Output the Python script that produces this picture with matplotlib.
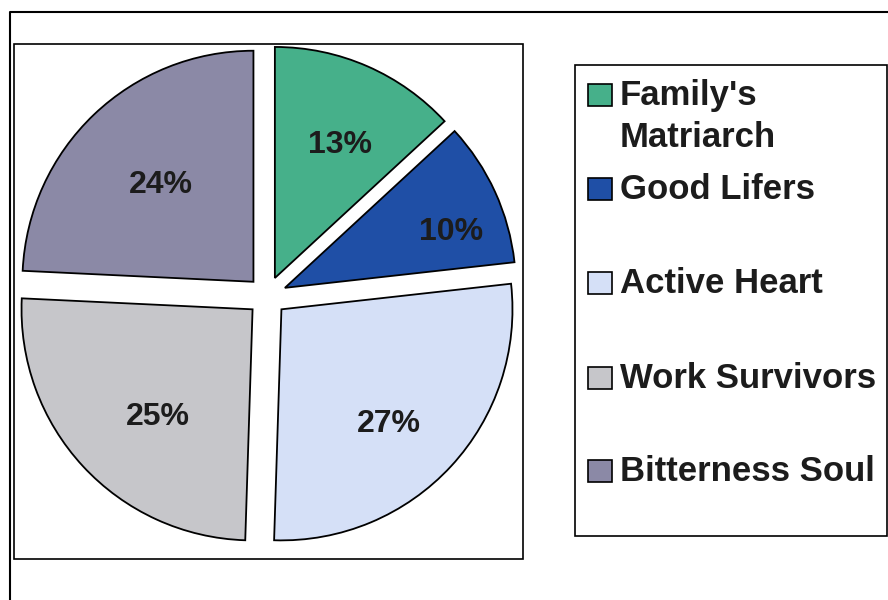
import matplotlib
matplotlib.use("Agg")
import matplotlib.pyplot as plt
import numpy as np
from matplotlib.patches import Rectangle

# Dados do gráfico
categorias = ["Family's\nMatriarch", "Good Lifers", "Active Heart", "Work Survivors", "Bitterness Soul"]
valores = [13, 10, 27, 25, 24]
cores = ["#46b08a", "#1f4fa6", "#d5e0f7", "#c6c6ca", "#8b89a6"]

plt.rcParams['font.family'] = ['Liberation Sans', 'DejaVu Sans']
plt.rcParams['font.weight'] = 'bold'
cor_texto = "#1c1c1c"

fig = plt.figure(figsize=(8.88, 6), dpi=100)

# eixo de fundo em pixels para as molduras e a legenda
bg = fig.add_axes([0, 0, 1, 1])
bg.set_xlim(0, 888)
bg.set_ylim(600, 0)
bg.axis('off')
bg.plot([10, 10, 888], [600, 12, 12], color='black', lw=1.5)
bg.add_patch(Rectangle((14, 44), 509, 515, fill=False, ec='black', lw=1.2))
bg.add_patch(Rectangle((575, 65), 312, 471, fill=False, ec='black', lw=1.2))

# pizza explodida
ax = fig.add_axes([17 / 888, 54 / 600, 500 / 888, 500 / 600])
fatias, _ = ax.pie(valores, colors=cores, startangle=90, counterclock=False,
                   explode=[0.085] * len(valores),
                   wedgeprops=dict(edgecolor='black', linewidth=1.3))
ax.set_xlim(-1.082, 1.082)
ax.set_ylim(-1.082, 1.082)

# rótulos de porcentagem (distância radial e desvio angular por fatia)
dist_rotulos = [0.64, 0.76, 0.68, 0.62, 0.58]
desvio_ang = [-2.5, -6, -4, 6, 0]
for w, v, d, da in zip(fatias, valores, dist_rotulos, desvio_ang):
    ang = np.deg2rad((w.theta1 + w.theta2) / 2 + da)
    cx, cy = w.center
    ax.text(cx + d * w.r * np.cos(ang), cy + d * w.r * np.sin(ang), f"{v}%",
            ha='center', va='center', fontsize=23, fontweight='bold', color=cor_texto)

# legenda desenhada à mão
linhas_y = [95, 189, 283, 378, 471]
for w, nome, y in zip(fatias, categorias, linhas_y):
    bg.add_patch(Rectangle((588, y - 11), 24, 22, facecolor=w.get_facecolor(),
                           edgecolor='black', lw=1.2))
    for i, parte in enumerate(nome.split("\n")):
        bg.text(620, y + 10 + 42 * i, parte, ha='left', va='baseline', fontsize=25,
                fontweight='bold', color=cor_texto)

fig.savefig("out.png", dpi=100)
